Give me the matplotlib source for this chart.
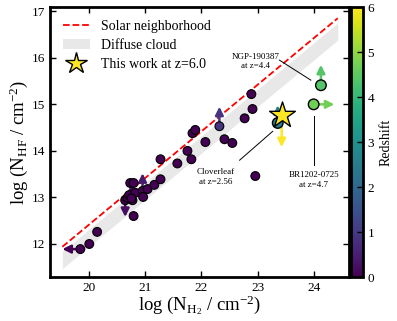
import numpy as np
import matplotlib
matplotlib.use('Agg')
import matplotlib.pyplot as plt
from matplotlib.lines import Line2D
from matplotlib.patches import Patch

plt.rcParams['font.family'] = 'Liberation Serif'
plt.rcParams['mathtext.fontset'] = 'custom'
plt.rcParams['mathtext.rm'] = 'Liberation Serif'
plt.rcParams['mathtext.it'] = 'Liberation Serif:italic'

# literature sample (log N_H2, log N_HF, redshift)
lit_x = [19.84, 20.00, 20.14, 20.64, 20.68, 20.71, 20.77, 20.82, 20.73, 20.79,
         20.95, 20.96, 21.04, 21.16, 21.27, 20.79, 20.75, 21.27, 21.57, 21.75,
         21.82, 21.84, 21.89, 22.07, 22.41, 22.55, 22.77, 22.89, 22.91, 22.96,
         22.32]
lit_y = [11.89, 12.00, 12.26, 12.94, 12.99, 13.05, 12.94, 13.10, 13.31, 13.31,
         13.14, 13.01, 13.18, 13.27, 13.39, 12.60, 12.98, 13.82, 13.73, 14.00,
         13.82, 14.38, 14.45, 14.19, 14.25, 14.17, 14.70, 15.22, 14.90, 13.46,
         14.53]
lit_z = [0.0] * 30 + [0.9]

# limits on literature points: (x, y, dx, dy, z)
lim_x = [19.84, 20.64, 20.95, 20.75, 22.32]
lim_y = [11.89, 12.94, 13.14, 12.98, 14.53]
lim_dx = [-0.32, 0.0, 0.0, 0.0, 0.0]
lim_dy = [0.0, -0.36, 0.38, 0.30, 0.42]
lim_z = [0.0, 0.2, 0.4, 0.3, 0.9]

# high-z sources
hz_names = ['Cloverleaf\nat z=2.56', 'NGP-190387\nat z=4.4', 'BR1202-0725\nat z=4.7']
hz_x = [23.36, 24.13, 24.00]
hz_y = [14.60, 15.41, 15.00]
hz_z = [2.56, 4.4, 4.7]
hz_dx = [0.0, 0.0, 0.37]
hz_dy = [0.38, 0.44, 0.0]
hz_text_x = [22.25, 22.96, 24.00]
hz_text_y = [13.44, 15.92, 13.37]
hz_line = [((22.68, 13.80), (23.27, 14.42)),
           ((23.39, 15.95), (23.95, 15.52)),
           ((24.00, 13.70), (24.00, 14.75))]

# this work
tw_x, tw_y, tw_z, tw_dy = 23.43, 14.77, 6.0, -0.69

# abundance relations
solar_off = -7.58
band_hi, band_lo = -7.68, -8.05
rel_x = [19.52, 24.43]

cmap = plt.get_cmap('viridis')
vmin, vmax = 0, 6

fig = plt.figure(figsize=(3.97, 3.21), dpi=100)
ax = fig.add_axes([0.126, 0.137, 0.753, 0.841])
cax = fig.add_axes([0.884, 0.137, 0.030, 0.841])

xr = np.array(rel_x)
ax.fill_between(xr, xr + band_lo, xr + band_hi, color='#e8e8e8', lw=0, zorder=1)
ax.plot(xr, xr + solar_off, 'r--', lw=1.3, zorder=2)


def arrow(x, y, dx, dy, z):
    ax.annotate('', xy=(x + dx, y + dy), xytext=(x, y),
                arrowprops=dict(arrowstyle='-|>', color=cmap(z / vmax),
                                lw=1.8, mutation_scale=12, shrinkA=0, shrinkB=0),
                zorder=3)


for i in range(len(lim_x)):
    arrow(lim_x[i], lim_y[i], lim_dx[i], lim_dy[i], lim_z[i])
for i in range(len(hz_x)):
    arrow(hz_x[i], hz_y[i], hz_dx[i], hz_dy[i], hz_z[i])
arrow(tw_x, tw_y, 0, tw_dy, tw_z)

sc = ax.scatter(lit_x, lit_y, c=lit_z, cmap=cmap, vmin=vmin, vmax=vmax,
                s=40, edgecolors='k', linewidths=0.8, zorder=4)
ax.scatter(hz_x, hz_y, c=hz_z, cmap=cmap, vmin=vmin, vmax=vmax,
           s=58, edgecolors='k', linewidths=1.0, zorder=4)
ax.scatter([tw_x], [tw_y], c=[tw_z], cmap=cmap, vmin=vmin, vmax=vmax,
           marker='*', s=380, edgecolors='k', linewidths=1.0, zorder=5)

for i in range(len(hz_names)):
    ax.text(hz_text_x[i], hz_text_y[i], hz_names[i], ha='center', va='center',
            fontsize=6.5, linespacing=1.3)
    (x0, y0), (x1, y1) = hz_line[i]
    ax.plot([x0, x1], [y0, y1], color='k', lw=0.7, zorder=2)

ax.set_xlim(19.3, 24.63)
ax.set_ylim(11.29, 17.09)
ax.set_xticks([20, 21, 22, 23, 24])
ax.set_yticks([12, 13, 14, 15, 16, 17])
ax.tick_params(direction='in', top=True, right=True, length=4, width=1,
               labelsize=9.5)
for s in ax.spines.values():
    s.set_linewidth(2)
ax.set_xlabel(r'log (N$_{\mathrm{H_2}}$ / cm$^{-2}$)', fontsize=13.5, labelpad=0)
ax.set_ylabel(r'log (N$_{\mathrm{HF}}$ / cm$^{-2}$)', fontsize=13.5, labelpad=1)

handles = [Line2D([], [], color='r', ls='--', lw=1.3),
           Patch(facecolor='#e8e8e8', edgecolor='none'),
           Line2D([], [], marker='*', color=cmap(1.0), mec='k', mew=1.0,
                  ms=16, ls='none')]
labels = ['Solar neighborhood', 'Diffuse cloud', 'This work at z=6.0']
ax.legend(handles, labels, loc='upper left', frameon=False, fontsize=10,
          handlelength=2.0, borderaxespad=0.5, labelspacing=0.45)

cb = fig.colorbar(sc, cax=cax)
cb.set_ticks(range(7))
cb.ax.tick_params(direction='in', length=4, width=1, labelsize=9.5)
cb.outline.set_linewidth(2)
cb.set_label('Redshift', fontsize=10, labelpad=4)

fig.savefig('out.png', dpi=100)
